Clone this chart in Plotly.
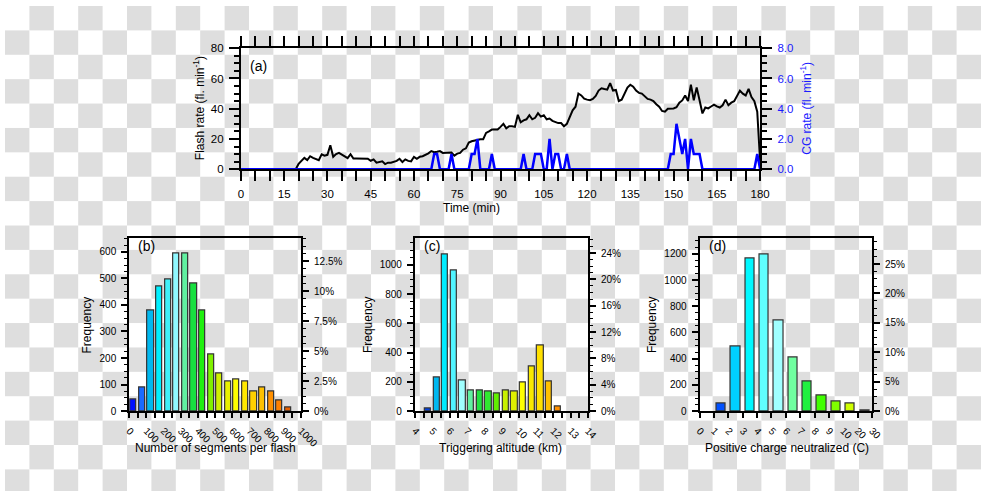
import plotly.graph_objects as go

# ---------------- data ----------------
time_min = list(range(0, 181))
flash_rate = [
    0, 0, 0, 0, 0, 0, 0, 0, 0, 0,
    0, 0, 0, 0, 0, 0, 0, 0, 0, 0,
    3.5, 5.5, 7.5, 6, 8.6, 7.5, 7, 6, 9.9, 9,
    9.5, 15.9, 8.2, 10, 10.8, 9.5, 8, 7.3, 9.9, 7,
    7, 7, 7, 7, 6.9, 5.6, 6.5, 4.3, 4.5, 5.2,
    3.4, 4.3, 4.3, 4.7, 5.5, 6.9, 4.7, 6.5, 5.5, 5.2,
    8.2, 6.9, 8.2, 8.6, 9.5, 10.5, 12, 11.2, 11.5, 12,
    10.8, 11, 11.2, 11, 9, 10.3, 10.8, 12.9, 13.8, 17.6,
    18.5, 19, 19.4, 19.8, 19.8, 24, 25, 26.2, 26.2, 26.2,
    28, 30, 27, 28.4, 28.4, 28, 36, 31, 32.3, 33,
    35.7, 33, 34, 37, 34.8, 35.7, 33, 33.5, 32, 31.4,
    30.5, 30.5, 28.4, 30, 35, 39, 41.3, 50, 48.8, 46.6,
    46, 45.6, 46.5, 48.5, 52, 53.5, 53, 52.6, 56.9, 52,
    52.4, 45.1, 46, 50, 54, 55.9, 54.6, 52, 50.5, 50,
    48, 46.5, 46, 45, 43, 41.3, 38.5, 38, 40, 40.2,
    40.2, 41, 44, 45.5, 48.8, 45.1, 55.9, 45.6, 54.1, 45.6,
    36.9, 40.8, 40.2, 41.5, 42.7, 41.5, 40.8, 42.3, 46, 42.3,
    44, 45, 49, 52, 50, 48.8, 53.1, 47.7, 45, 38,
    5,
]
cg_rate = [
    0, 0, 0, 0, 0, 0, 0, 0, 0, 0,
    0, 0, 0, 0, 0, 0, 0, 0, 0, 0,
    0, 0, 0, 0, 0, 0, 0, 0, 0, 0,
    0, 0, 0, 0, 0, 0, 0, 0, 0, 0,
    0, 0, 0, 0, 0, 0, 0, 0, 0, 0,
    0, 0, 0, 0, 0, 0, 0, 0, 0, 0,
    0, 0, 0, 0, 0, 0, 0, 1, 1, 0,
    0, 0, 0, 1, 0, 0, 0, 0, 0, 0,
    1, 1, 2, 0, 0, 0, 0, 1, 0, 0,
    0, 0, 0, 0, 0, 0, 0, 0, 1, 0,
    0, 0, 1, 1, 1, 0, 0, 2, 0, 1,
    1, 0, 0, 1, 0, 0, 0, 0, 0, 0,
    0, 0, 0, 0, 0, 0, 0, 0, 0, 0,
    0, 0, 0, 0, 0, 0, 0, 0, 0, 0,
    0, 0, 0, 0, 0, 0, 0, 0, 0, 1,
    1, 3, 2, 1, 2, 0, 2, 1, 1, 1,
    0, 0, 0, 0, 0, 0, 0, 0, 0, 0,
    0, 0, 0, 0, 0, 0, 0, 0, 0, 1,
    0,
]

seg_bin_left = [0, 50, 100, 150, 200, 250, 300, 350, 400, 450,
                500, 550, 600, 650, 700, 750, 800, 850, 900]
seg_freq = [45, 88, 378, 470, 497, 592, 592, 480, 378, 213,
            140, 113, 120, 110, 73, 90, 75, 42, 12]
seg_colors = ["#0010ff", "#1a6aff", "#00b8f0", "#00f0ff", "#40f0f8", "#90f8ff",
              "#60f0a0", "#18e040", "#20f010", "#80f000", "#d0f000", "#e8f000",
              "#ffff00", "#ffe800", "#ffd000", "#ffc000", "#ff9000", "#ff8000", "#e86000"]

alt_bin_left = [4.5, 5.0, 5.5, 6.0, 6.5, 7.0, 7.5, 8.0, 8.5, 9.0, 9.5, 10.0, 10.5, 11.0, 11.5, 12.0]
alt_freq = [18, 232, 1072, 962, 213, 143, 140, 132, 123, 143, 135, 197, 302, 452, 203, 35]
alt_colors = ["#0040e0", "#00b8f0", "#00ecff", "#50f4ff", "#a0ffff", "#60f0a0", "#20e040",
              "#30e830", "#60f000", "#c8f000", "#e0f000", "#ffff00", "#f8e800", "#ffe000",
              "#ffc000", "#ff9000"]

charge_labels = ["0", "1", "2", "3", "4", "5", "6", "7", "8", "9", "10", "20", "30"]
charge_bin_index = [1, 2, 3, 4, 5, 6, 7, 8, 9, 10, 11]
charge_freq = [60, 490, 1168, 1192, 688, 410, 230, 117, 73, 55, 5]
charge_colors = ["#0050ff", "#00d0ff", "#00f8ff", "#60ffff", "#a0ffff", "#70ffa0",
                 "#20f040", "#40ff00", "#80ff00", "#d0ff00", "#f0f000"]

seg_pct_ticks = [0, 2.5, 5, 7.5, 10, 12.5]
alt_pct_ticks = [0, 4, 8, 12, 16, 20, 24]
charge_pct_ticks = [0, 5, 10, 15, 20, 25]

# ---------------- layout helpers ----------------
W, H = 1000, 491
FONT = "Liberation Sans, Arial, Helvetica, sans-serif"


def fx(x):
    return x / W


def fy(y):
    return 1 - y / H


fig = go.Figure()

# checkerboard (transparent-background look)
shapes = []
for i in range(40):
    for j in range(20):
        if (i + j) % 2 == 1:
            shapes.append(dict(type="rect", xref="paper", yref="paper",
                               x0=i * 25 / W, x1=(i + 1) * 25 / W,
                               y0=1 - (j + 1) * 25 / H, y1=1 - j * 25 / H,
                               fillcolor="#dedede", line_width=0, layer="below"))

# ---------------- panel (a) ----------------
fig.add_trace(go.Scatter(x=time_min, y=flash_rate, mode="lines",
                         line=dict(color="black", width=2), xaxis="x", yaxis="y",
                         cliponaxis=False, showlegend=False))
fig.add_trace(go.Scatter(x=time_min, y=cg_rate, mode="lines",
                         line=dict(color="#0000ff", width=2.5), xaxis="x", yaxis="y2",
                         cliponaxis=False, showlegend=False))


def bar_panel(xs, freqs, colors, width, xa, ya, yr):
    total = sum(freqs)
    fig.add_trace(go.Bar(x=xs, y=freqs, width=width, xaxis=xa, yaxis=ya,
                         marker=dict(color=colors, line=dict(color="#333333", width=1.2)),
                         showlegend=False))
    fig.add_trace(go.Scatter(x=xs, y=[f / total * 100 for f in freqs], mode="markers",
                             marker=dict(opacity=0), xaxis=xa, yaxis=yr,
                             hoverinfo="skip", showlegend=False))
    return total


seg_x = [b + 25 for b in seg_bin_left]
alt_x = [b + 0.25 for b in alt_bin_left]
charge_x = [b + 0.5 for b in charge_bin_index]

n_seg = bar_panel(seg_x, seg_freq, seg_colors, 36, "x2", "y3", "y4")
n_alt = bar_panel(alt_x, alt_freq, alt_colors, 0.36, "x3", "y5", "y6")
n_chg = bar_panel(charge_x, charge_freq, charge_colors, 0.65, "x4", "y7", "y8")

axis_common = dict(showline=True, linecolor="black", linewidth=2, ticks="outside",
                   tickcolor="black", tickwidth=1.5, showgrid=False, zeroline=False,
                   ticklabelstandoff=3)

tick_a = dict(family=FONT, size=11.5, color="black")
tick_b = dict(family=FONT, size=10, color="black")

# panel (a) axes
xa_dom = [fx(241.7), fx(773.7)]
ya_dom = [fy(167.3), fy(43.3)]
layout_axes = dict(
    xaxis=dict(axis_common, domain=xa_dom, anchor="y", range=[0, 180], dtick=15, tick0=0,
               ticklen=10, mirror="allticks", tickfont=tick_a,
               minor=dict(dtick=5, ticklen=5, tickwidth=1.5, ticks="outside", tickcolor="black")),
    yaxis=dict(axis_common, domain=ya_dom, anchor="x", range=[0, 80], dtick=20, ticklen=10,
               tickfont=tick_a,
               minor=dict(dtick=5, ticklen=5, tickwidth=1.5, ticks="outside", tickcolor="black")),
    yaxis2=dict(axis_common, overlaying="y", side="right", anchor="x", range=[0, 8], dtick=2,
                tickformat=".1f", ticklen=10, tickfont=dict(family=FONT, size=11.5, color="#1a1aff"),
                minor=dict(dtick=0.5, ticklen=5, tickwidth=1.5, ticks="outside", tickcolor="black")),
)


def bottom_axes(xname, yname, yrname, xl, xr, xcfg, ymax, ydt, yminor, total, pct_ticks, pct_minor):
    ydom = [fy(415.3), fy(238.3)]
    pct_text = [("%g" % t) + "%" for t in pct_ticks]
    layout_axes[xname] = dict(axis_common, domain=[fx(xl), fx(xr)], anchor=yname.replace("yaxis", "y"),
                              mirror=True, ticklen=5, tickangle=45, tickfont=tick_b, **xcfg)
    layout_axes[yname] = dict(axis_common, domain=ydom, anchor=xname.replace("xaxis", "x"),
                              range=[0, ymax], dtick=ydt, ticklen=6, tickfont=tick_b,
                              minor=dict(dtick=yminor, ticklen=3, tickwidth=1.2, ticks="outside",
                                         tickcolor="black"))
    layout_axes[yrname] = dict(axis_common, overlaying=yname.replace("yaxis", "y"), side="right",
                               anchor=xname.replace("xaxis", "x"),
                               range=[0, ymax / total * 100], tickvals=pct_ticks, ticktext=pct_text,
                               ticklen=6, tickfont=tick_b,
                               minor=dict(dtick=pct_minor, ticklen=3, tickwidth=1.2, ticks="outside",
                                          tickcolor="black"))


bottom_axes("xaxis2", "yaxis3", "yaxis4", 127.3, 303.3,
            dict(range=[0, 1000], dtick=100, tick0=0,
                 minor=dict(dtick=50, ticklen=5, tickwidth=1.5, ticks="outside", tickcolor="black")),
            650, 100, 25, n_seg, seg_pct_ticks, 0.625)
bottom_axes("xaxis3", "yaxis5", "yaxis6", 420.0, 597.3,
            dict(range=[4, 14], dtick=1, tick0=4,
                 minor=dict(dtick=0.5, ticklen=5, tickwidth=1.5, ticks="outside", tickcolor="black")),
            1180, 200, 50, n_alt, alt_pct_ticks, 1)
bottom_axes("xaxis4", "yaxis7", "yaxis8", 711.7, 888.3,
            dict(range=[0, 12], tickvals=list(range(len(charge_labels))), ticktext=charge_labels),
            1317, 200, 50, n_chg, charge_pct_ticks, 1.25)

# ---------------- annotations ----------------
title_font = dict(family=FONT, size=12, color="black")
ann = []


def add_text(text, x, y, angle=0, font=title_font, xanchor="center"):
    ann.append(dict(text=text, x=fx(x), y=fy(y), xref="paper", yref="paper", showarrow=False,
                    textangle=angle, font=font, xanchor=xanchor, yanchor="middle"))


add_text("Flash rate (fl. min<sup>-1</sup>)", 199.5, 105, -90)
add_text("CG rate (fl. min<sup>-1</sup>)", 821, 105, -90, dict(family=FONT, size=12, color="#1a1aff"))
add_text("Time (min)", 478, 207)
add_text("(a)", 249, 61.5, font=dict(family=FONT, size=14, color="black"), xanchor="left")

add_text("Frequency", 84.5, 327, -90)
add_text("Number of segments per flash", 216, 453)
add_text("(b)", 134, 246.5, font=dict(family=FONT, size=14, color="black"), xanchor="left")

add_text("Frequency", 372, 327, -90)
add_text("Triggering altitude (km)", 508, 453)
add_text("(c)", 427.5, 246.5, font=dict(family=FONT, size=14, color="black"), xanchor="left")

add_text("Frequency", 663, 327, -90)
add_text("Positive charge neutralized (C)", 801, 453)
add_text("(d)", 719.5, 246.5, font=dict(family=FONT, size=14, color="black"), xanchor="left")

fig.update_layout(
    width=W, height=H, margin=dict(l=0, r=0, t=0, b=0),
    paper_bgcolor="white", plot_bgcolor="rgba(0,0,0,0)",
    shapes=shapes, annotations=ann, bargap=0, showlegend=False,
    font=dict(family=FONT, size=11, color="black"),
    **layout_axes,
)

post = ("document.documentElement.style.margin='0';document.documentElement.style.overflow='hidden';"
        "document.body.style.margin='0';document.body.style.overflow='hidden';"
        "var d=document.getElementById('{plot_id}');d.style.position='fixed';"
        "d.style.left='0px';d.style.top='0px';")
fig.write_html("out.html", config={"displayModeBar": False, "responsive": False}, post_script=post)
